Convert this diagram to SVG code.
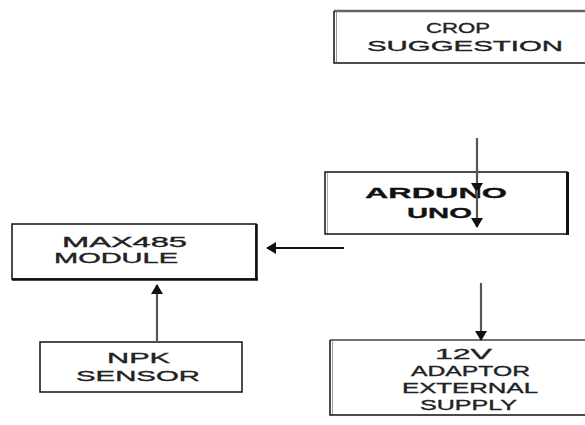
<svg xmlns="http://www.w3.org/2000/svg" width="585" height="425" viewBox="0 0 585 425">
<style>
.box{fill:#fff;stroke:#111;stroke-width:1.5}
.t{font-family:"Liberation Sans",Arial,sans-serif;font-size:15px;fill:#222;stroke:#222;stroke-width:0.35;text-anchor:start}
.s{font-size:14px}
.b{font-weight:bold;fill:#111;stroke:#111;stroke-width:0.3}
.con{fill:none;stroke-width:2.2}
</style>
<defs>
<marker id="ah" markerWidth="10" markerHeight="12" refX="9" refY="6" orient="auto" markerUnits="userSpaceOnUse">
<path d="M0,0 L10,6 L0,12 Z" fill="#111"/>
</marker>
</defs>
<rect width="585" height="425" fill="#fff"/>
<g id="crop">
<path d="M334,11 L590,11" stroke="#666" stroke-width="2.5"/>
<path d="M334,11 L334,63 L590,63" fill="none" stroke="#111" stroke-width="1.5"/>
<path d="M336.5,12 L336.5,62" stroke="#999" stroke-width="1"/>
<text class="t" x="426" y="33" textLength="64" lengthAdjust="spacingAndGlyphs">CROP</text>
<text class="t" x="367" y="51" textLength="196" lengthAdjust="spacingAndGlyphs">SUGGESTION</text>
</g>
<g id="arduino">
<rect class="box" x="325" y="172" width="242" height="62"/>
<path d="M567.5,172 L567.5,235" stroke="#111" stroke-width="3"/>
<path d="M327.5,173 L327.5,233" stroke="#aaa" stroke-width="1"/>
<text class="t b" x="365" y="198" textLength="142" lengthAdjust="spacingAndGlyphs">ARDUNO</text>
<text class="t b" x="407" y="218" textLength="65" lengthAdjust="spacingAndGlyphs">UNO</text>
</g>
<g id="max485">
<rect class="box" x="12" y="224" width="244" height="55"/>
<path d="M256.5,224 L256.5,280 M12,279.5 L258,279.5" stroke="#111" stroke-width="2.5"/>
<text class="t s" x="62" y="247" textLength="125" lengthAdjust="spacingAndGlyphs">MAX485</text>
<text class="t s" x="54" y="263" textLength="124" lengthAdjust="spacingAndGlyphs">MODULE</text>
</g>
<g id="npk">
<rect class="box" x="40" y="342" width="202" height="50"/>
<text class="t" x="107" y="363" textLength="63" lengthAdjust="spacingAndGlyphs">NPK</text>
<text class="t" x="76" y="381" textLength="124" lengthAdjust="spacingAndGlyphs">SENSOR</text>
</g>
<g id="adaptor">
<path d="M330,340 L590,340" stroke="#444" stroke-width="1.5"/>
<path d="M330,340 L330,415 L590,415" fill="none" stroke="#111" stroke-width="1.5"/>
<path d="M332.5,341 L332.5,414" stroke="#999" stroke-width="1"/>
<text class="t" x="435" y="359" textLength="57" lengthAdjust="spacingAndGlyphs">12V</text>
<text class="t" x="411" y="376" textLength="119" lengthAdjust="spacingAndGlyphs">ADAPTOR</text>
<text class="t" x="402" y="393" textLength="136" lengthAdjust="spacingAndGlyphs">EXTERNAL</text>
<text class="t" x="420" y="410" textLength="97" lengthAdjust="spacingAndGlyphs">SUPPLY</text>
</g>
<g id="connectors">
<path class="con" d="M477,138 L477,192" stroke="#555" marker-end="url(#ah)"/>
<path class="con" d="M477,190 L477,227" stroke="#555" marker-end="url(#ah)"/>
<path class="con" d="M344,248 L267,248" stroke="#111" stroke-width="1.3" marker-end="url(#ah)"/>
<path class="con" d="M157,342 L157,285" stroke="#555" marker-end="url(#ah)"/>
<path class="con" d="M481,283 L481,340" stroke="#555" marker-end="url(#ah)"/>
</g>
</svg>
